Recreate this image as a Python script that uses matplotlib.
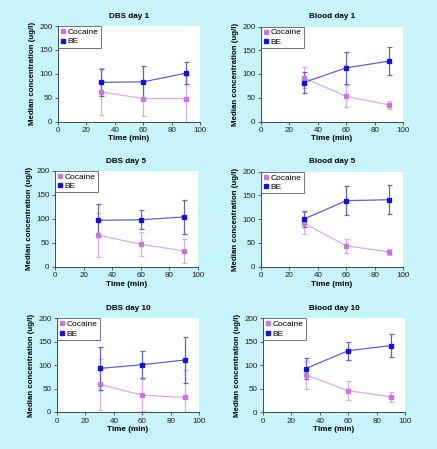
import matplotlib
matplotlib.use("Agg")
import matplotlib.pyplot as plt
from matplotlib.lines import Line2D

plt.rcParams['font.family'] = ['Liberation Sans', 'DejaVu Sans']

# time points (min)
time = [30, 60, 90]

titles = ["DBS day 1", "Blood day 1", "DBS day 5", "Blood day 5", "DBS day 10", "Blood day 10"]

# median concentrations (ug/l) and error bar half-widths, one row per panel
cocaine = [[62, 48, 48], [92, 53, 35], [66, 47, 33], [92, 44, 31], [59, 36, 31], [80, 46, 33]]
cocaine_err = [[49, 37, 48], [22, 23, 9], [46, 25, 25], [23, 15, 7], [54, 34, 59], [30, 20, 11]]
be = [[82, 83, 101], [82, 113, 127], [97, 98, 104], [100, 139, 141], [93, 101, 111], [93, 131, 142]]
be_err = [[28, 33, 23], [23, 34, 30], [35, 20, 36], [17, 30, 31], [45, 29, 49], [23, 19, 24]]

# axes boxes in pixels: left, top, right, bottom
boxes = [(58, 26, 200, 121.5), (261, 26.5, 403, 121.5),
         (55, 171, 198, 266.7), (261, 171.7, 403, 266.7),
         (57, 318.3, 199, 412), (263, 318.3, 405, 412.3)]

W, H = 437, 449
fig = plt.figure(figsize=(W / 100, H / 100), dpi=100)
fig.patch.set_facecolor('#c6f4fa')

coc_line = '#dcaae8'
coc_mark = '#c27ad6'
be_line = '#6262c0'
be_mark = '#1414cc'
axis_col = '#444444'

handles = [Line2D([], [], ls='none', marker='s', ms=2.6, mfc=coc_mark, mec=coc_mark),
           Line2D([], [], ls='none', marker='s', ms=3.2, mfc=be_mark, mec=be_mark)]

for i, (l, t, r, b) in enumerate(boxes):
    ax = fig.add_axes([l / W, 1 - b / H, (r - l) / W, (b - t) / H])
    ax.set_facecolor('white')
    ax.errorbar(time, cocaine[i], yerr=cocaine_err[i], color=coc_line, ecolor=coc_line,
                elinewidth=0.9, capsize=1.8, capthick=0.9, lw=0.9,
                marker='s', ms=2.6, mfc=coc_mark, mec=coc_mark)
    ax.errorbar(time, be[i], yerr=be_err[i], color=be_line, ecolor=be_line,
                elinewidth=0.9, capsize=1.8, capthick=0.9, lw=0.9,
                marker='s', ms=3.2, mfc=be_mark, mec=be_mark)
    ax.set_xlim(0, 100)
    ax.set_ylim(0, 200)
    ax.set_xticks([0, 20, 40, 60, 80, 100])
    ax.set_yticks([0, 50, 100, 150, 200])
    for s in ['top', 'right']:
        ax.spines[s].set_visible(False)
    for s in ['left', 'bottom']:
        ax.spines[s].set_color(axis_col)
        ax.spines[s].set_linewidth(0.7)
    ax.tick_params(labelsize=5.8, length=2.5, width=0.6, color=axis_col,
                   labelcolor='#222222', pad=1.5)
    ax.set_xlabel('Time (min)', fontsize=5.9, fontweight='bold', labelpad=1)
    ax.set_ylabel('Median concentration (ug/l)', fontsize=5.7, fontweight='bold', labelpad=2)
    ax.set_title(titles[i], fontsize=5.9, fontweight='bold', pad=6)
    leg = ax.legend(handles, ['Cocaine', 'BE'], loc='upper left', fontsize=6,
                    frameon=True, fancybox=False, borderaxespad=0, handlelength=0.6,
                    handletextpad=0.3, borderpad=0.25, labelspacing=0.2, numpoints=1)
    leg.get_frame().set_edgecolor('#333333')
    leg.get_frame().set_linewidth(0.6)

fig.savefig('out.png', dpi=100, facecolor=fig.get_facecolor())
